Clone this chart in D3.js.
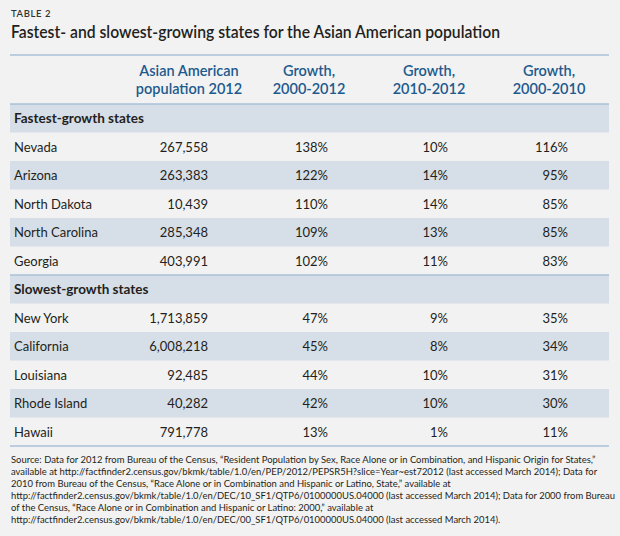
<!DOCTYPE html>
<html>
<head>
<meta charset="utf-8">
<script src="https://cdn.jsdelivr.net/npm/d3@7/dist/d3.min.js"></script>
<style>
  html, body { margin: 0; padding: 0; background: #f2f2f2; }
  svg { display: block; font-family: Lato, "Open Sans", sans-serif; }
</style>
</head>
<body>
<svg id="chart" width="620" height="536"></svg>
<script>
// ---- Data ----
const tableLabel = "TABLE 2";
const title = "Fastest- and slowest-growing states for the Asian American population";
const columnKeys = ["pop", "g0012", "g1012", "g0010"];
const columnHeaders = [
  ["Asian American", "population 2012"],
  ["Growth,", "2000-2012"],
  ["Growth,", "2010-2012"],
  ["Growth,", "2000-2010"]
];
const sectionLabels = ["Fastest-growth states", "Slowest-growth states"];

const fastStates = ["Nevada", "Arizona", "North Dakota", "North Carolina", "Georgia"];
const fastPop = [267558, 263383, 10439, 285348, 403991];
const fastG0012 = [138, 122, 110, 109, 102];
const fastG1012 = [10, 14, 14, 13, 11];
const fastG0010 = [116, 95, 85, 85, 83];

const slowStates = ["New York", "California", "Louisiana", "Rhode Island", "Hawaii"];
const slowPop = [1713859, 6008218, 92485, 40282, 791778];
const slowG0012 = [47, 45, 44, 42, 13];
const slowG1012 = [9, 8, 10, 10, 1];
const slowG0010 = [35, 34, 31, 30, 11];

const sourceLines = [
  "Source: Data for 2012 from Bureau of the Census, \u201cResident Population by Sex, Race Alone or in Combination, and Hispanic Origin for States,\u201d",
  "available at http://factfinder2.census.gov/bkmk/table/1.0/en/PEP/2012/PEPSR5H?slice=Year~est72012 (last accessed March 2014); Data for",
  "2010 from Bureau of the Census, \u201cRace Alone or in Combination and Hispanic or Latino, State,\u201d available at",
  "http://factfinder2.census.gov/bkmk/table/1.0/en/DEC/10_SF1/QTP6/0100000US.04000 (last accessed March 2014); Data for 2000 from Bureau",
  "of the Census, \u201cRace Alone or in Combination and Hispanic or Latino: 2000,\u201d available at",
  "http://factfinder2.census.gov/bkmk/table/1.0/en/DEC/00_SF1/QTP6/0100000US.04000 (last accessed March 2014)."
];

// ---- Build flat row list ----
function sectionRows(label, states, pop, a, b, c) {
  const out = [{ type: "section", label }];
  states.forEach((s, i) => out.push({ type: "row", label: s, pop: pop[i], g0012: a[i], g1012: b[i], g0010: c[i], idx: i }));
  return out;
}
const rows = [
  ...sectionRows(sectionLabels[0], fastStates, fastPop, fastG0012, fastG1012, fastG0010),
  ...sectionRows(sectionLabels[1], slowStates, slowPop, slowG0012, slowG1012, slowG0010)
];

// ---- Layout ----
const W = 620, left = 10, right = 609;
const headTop = 55, headBottom = 104, tableBottom = 446;
const colors = {
  text: "#231f20", head: "#1d5a8e", shade: "#d6dee7", rule: "#a9c1d9", label: "#333"
};

const svg = d3.select("#chart");
const y = d3.scaleBand().domain(d3.range(rows.length)).range([headBottom, tableBottom]).padding(0);
const x = d3.scalePoint().domain(columnKeys).range([208, 568]);

const fmtNum = d3.format(",");
const fmtPct = v => v + "%";

// table label and title
svg.append("text").attr("x", 11).attr("y", 17)
  .attr("font-size", 9.5).attr("font-weight", 600).attr("letter-spacing", 0.6)
  .attr("fill", colors.label).text(tableLabel);
svg.append("text").attr("x", 11).attr("y", 38)
  .attr("font-size", 16.5).attr("font-weight", 600).attr("fill", colors.text)
  .attr("textLength", 489).attr("lengthAdjust", "spacingAndGlyphs")
  .text(title);

// shaded bands
svg.append("g").selectAll("rect")
  .data(rows.map((r, i) => ({ r, i })).filter(d => d.r.type === "section" || d.r.idx % 2 === 1))
  .join("rect")
  .attr("x", left).attr("width", right - left)
  .attr("y", d => y(d.i)).attr("height", y.bandwidth())
  .attr("fill", colors.shade);

// rules
const ruleYs = [headTop, headBottom, y(rows.findIndex((r, i) => i > 0 && r.type === "section")), tableBottom];
svg.append("g").selectAll("line").data(ruleYs).join("line")
  .attr("x1", left).attr("x2", right)
  .attr("y1", d => d).attr("y2", d => d)
  .attr("stroke", colors.rule).attr("stroke-width", 1.3);

// column headers
const hg = svg.append("g").attr("fill", colors.head).attr("font-size", 14.5).attr("font-weight", 600).attr("text-anchor", "middle");
columnKeys.forEach((k, ci) => {
  const cx = x(k) - 19;
  columnHeaders[ci].forEach((line, li) => {
    hg.append("text").attr("x", cx).attr("y", 76 + li * 18).text(line);
  });
});

// rows
const rg = svg.append("g").selectAll("g").data(rows).join("g")
  .attr("transform", (d, i) => `translate(0,${y(i) + y.bandwidth() / 2 + 5})`);

rg.append("text")
  .attr("x", 14)
  .attr("font-size", d => d.type === "section" ? 13.5 : 13)
  .attr("font-weight", d => d.type === "section" ? 700 : 400)
  .attr("fill", colors.text)
  .text(d => d.label);

rg.filter(d => d.type === "row").each(function(d) {
  const g = d3.select(this);
  columnKeys.forEach(k => {
    g.append("text").attr("x", x(k)).attr("text-anchor", "end")
      .attr("font-size", 13).attr("fill", colors.text)
      .text(k === "pop" ? fmtNum(d[k]) : fmtPct(d[k]));
  });
});

// source
const sg = svg.append("g").attr("font-size", 10).attr("fill", colors.text);
sg.selectAll("text").data(sourceLines).join("text")
  .attr("x", 0).attr("y", (d, i) => 463.5 + i * 12).text(d => d);
const w0 = sg.select("text").node().getComputedTextLength();
const k = 585 / w0;
sg.attr("transform", `translate(11,0) scale(${k},1)`);
</script>
</body>
</html>
